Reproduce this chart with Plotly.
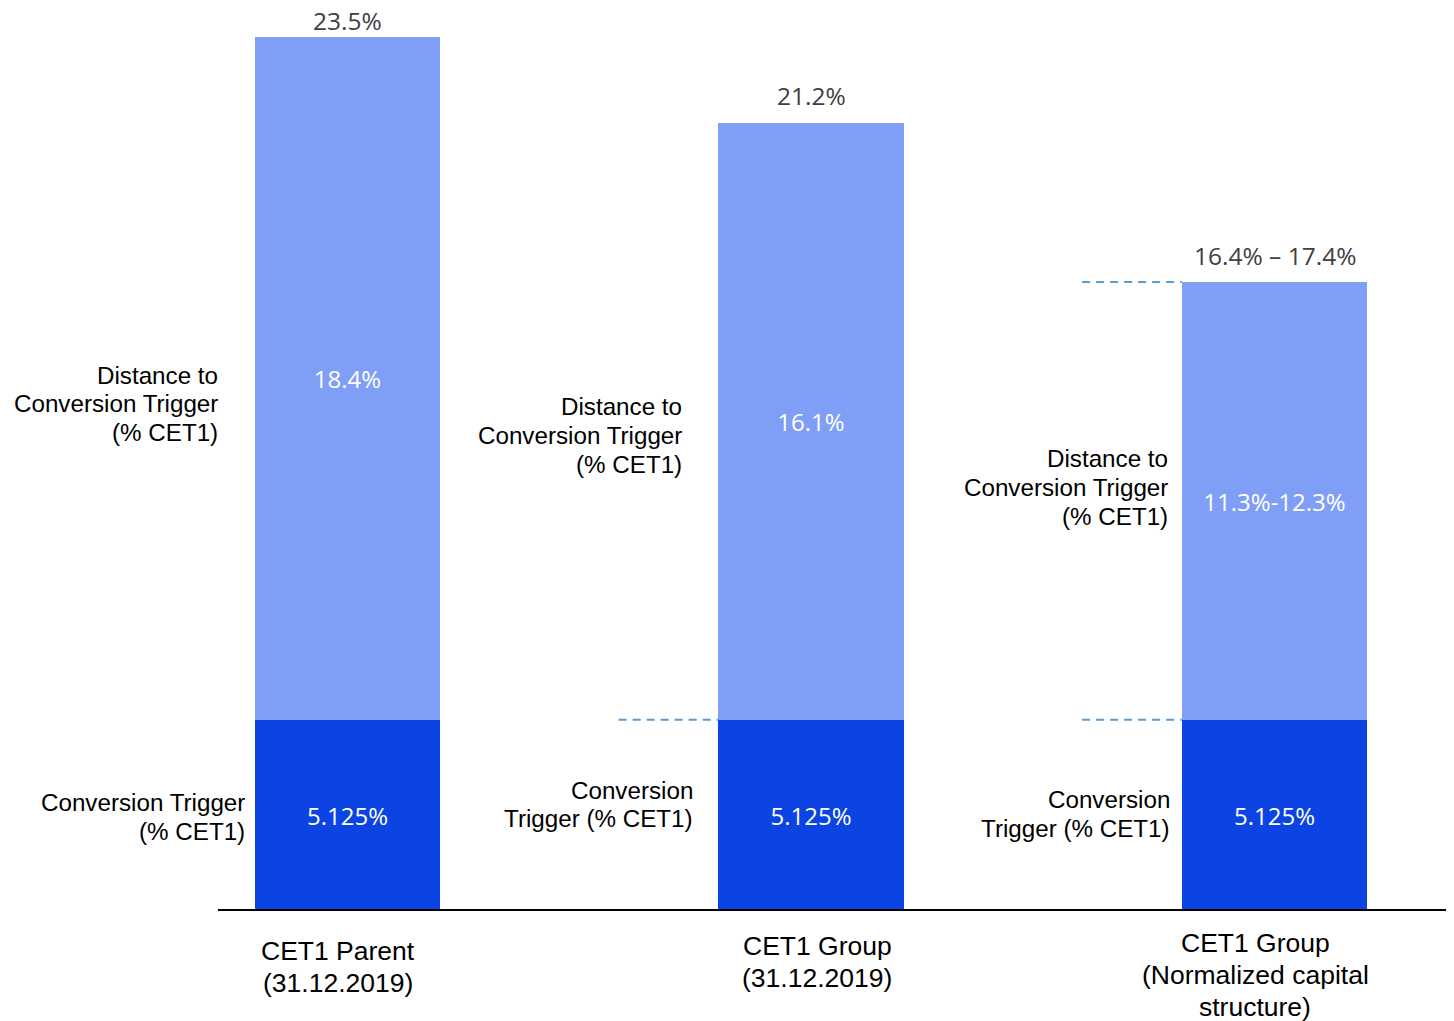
import plotly.graph_objects as go

# ---- data ----
categories = ["CET1 Parent (31.12.2019)", "CET1 Group (31.12.2019)", "CET1 Group (Normalized capital structure)"]
trigger = [5.125, 5.125, 5.125]
distance = [18.4, 16.1, 11.8]  # last is midpoint of 11.3%-12.3%
trigger_labels = ["5.125%", "5.125%", "5.125%"]
distance_labels = ["18.4%", "16.1%", "11.3%-12.3%"]
total_labels = ["23.5%", "21.2%", "16.4% \u2013 17.4%"]
cat_lines = [["CET1 Parent", "(31.12.2019)"],
             ["CET1 Group", "(31.12.2019)"],
             ["CET1 Group", "(Normalized capital", "structure)"]]

W, H = 1454, 1021
OFF = 8  # page body margin compensation
LIGHT = "#7F9FF7"
DARK = "#0B44E3"
DASH = "#5B9BD5"
xpos = [0, 1, 2]
totals = [t + d for t, d in zip(trigger, distance)]

fig = go.Figure()
fig.add_trace(go.Bar(
    x=xpos, y=trigger, width=0.4, marker=dict(color=DARK, line=dict(width=0)),
    text=trigger_labels, textposition="inside", insidetextanchor="middle", textangle=0,
    textfont=dict(color="white", size=24, family="Open Sans"), hoverinfo="skip"))
fig.add_trace(go.Bar(
    x=xpos, y=distance, width=0.4, marker=dict(color=LIGHT, line=dict(width=0)),
    text=distance_labels, textposition="inside", insidetextanchor="middle", textangle=0,
    textfont=dict(color="white", size=24, family="Open Sans"), hoverinfo="skip"))

# totals above bars
shifts = [17, 27, 27]
for i, (tot, lab) in enumerate(zip(totals, total_labels)):
    fig.add_annotation(x=xpos[i], y=tot, text=lab, showarrow=False, yanchor="middle",
                       yshift=shifts[i], borderpad=0,
                       font=dict(size=24.5, color="#404040", family="Open Sans"))

# dashed guide lines
def dashed(i, yv):
    fig.add_shape(type="line", xref="x", yref="y", x0=xpos[i] - 0.2 - 0.215, x1=xpos[i] - 0.2,
                  y0=yv, y1=yv, line=dict(color=DASH, width=2, dash="8px,6px"))
dashed(1, trigger[1])
dashed(2, trigger[2])
dashed(2, totals[2])

# baseline
fig.add_shape(type="line", xref="paper", yref="y", x0=(218 - OFF) / W, x1=(1450 - OFF) / W, y0=0, y1=0,
              line=dict(color="black", width=2))

ARIAL = "Arial, Liberation Sans, sans-serif"

def text_lines(lines, xr, ys, anchor, size):
    for ln, yv in zip(lines, ys):
        fig.add_annotation(xref="paper", yref="paper", x=(xr - OFF) / W, y=1 - (yv - OFF) / H, text=ln,
                           showarrow=False, xanchor=anchor, yanchor="middle",
                           font=dict(size=size, color="black", family=ARIAL))

dist_lines = ["Distance to", "Conversion Trigger", "(% CET1)"]
text_lines(dist_lines, 220, [375, 403.5, 432], "right", 24.2)
text_lines(dist_lines, 684, [406, 435, 464], "right", 24.2)
text_lines(dist_lines, 1170, [459, 487.5, 516], "right", 24.2)
text_lines(["Conversion Trigger", "(% CET1)"], 247, [802, 831], "right", 24.2)
text_lines(["Conversion", "Trigger (% CET1)"], 695, [790, 818], "right", 24.2)
text_lines(["Conversion", "Trigger (% CET1)"], 1172, [799, 828], "right", 24.2)

# category labels
text_lines(cat_lines[0], 338, [951, 983], "center", 26.5)
text_lines(cat_lines[1], 817, [946, 978], "center", 26.5)
text_lines(cat_lines[2], 1255, [943, 975, 1007], "center", 26.5)

px_per = 37.1
fig.update_layout(
    width=W, height=H, barmode="stack", showlegend=False,
    margin=dict(l=0, r=0, t=0, b=0),
    paper_bgcolor="white", plot_bgcolor="white",
    xaxis=dict(range=[(OFF - 347.5) / 463.5, (W + OFF - 347.5) / 463.5], visible=False),
    yaxis=dict(range=[(910 - H - OFF) / px_per, (910 - OFF) / px_per], visible=False),
    bargap=0,
)
fig.write_html("out.html")
